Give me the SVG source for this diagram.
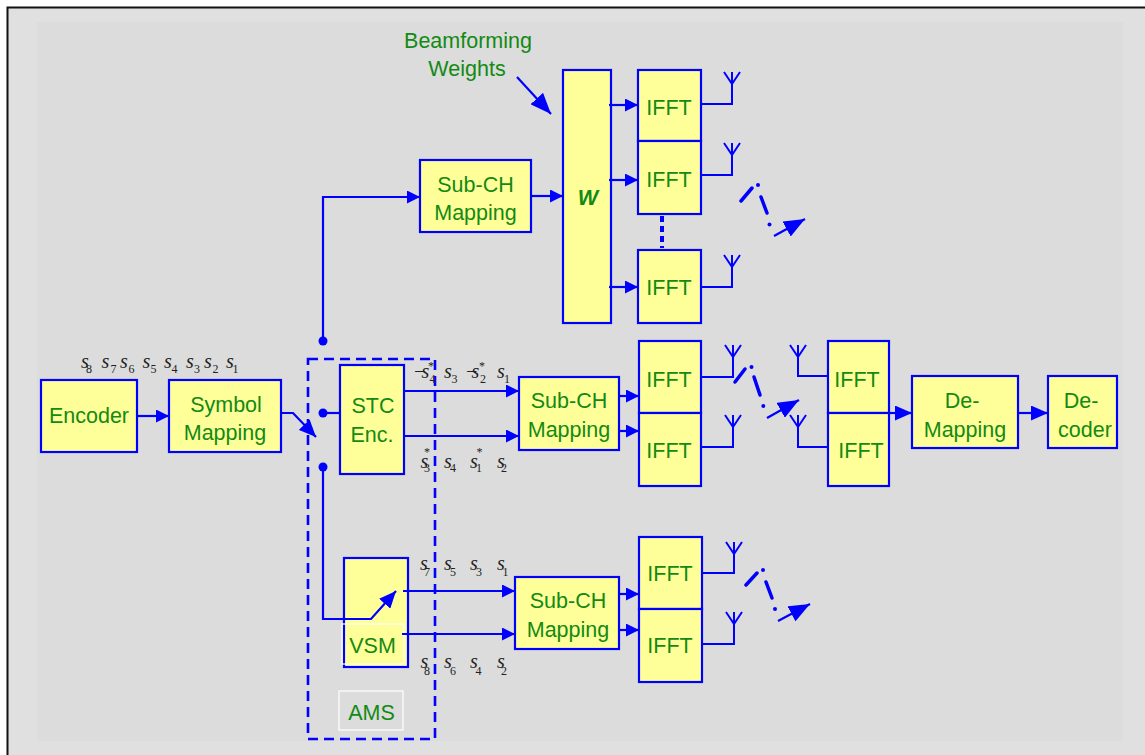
<svg xmlns="http://www.w3.org/2000/svg" width="1145" height="755" viewBox="0 0 1145 755">
<defs>
<style>
.box{fill:#ffff99;stroke:#0000ff;stroke-width:2.2}
.ln{fill:none;stroke:#0000ff;stroke-width:2.2}
.ant{fill:none;stroke:#0000ff;stroke-width:2}
.dash{fill:none;stroke:#0000ff;stroke-width:3.5;stroke-linecap:round}
.lbl{font-family:"Liberation Sans",Arial,sans-serif;font-size:21.5px;fill:#138a13;text-anchor:middle}
.sym{font-family:"Liberation Serif","Times New Roman",serif;font-size:20px;font-style:italic;fill:#222}
.sub{font-size:12px;font-style:normal}
.ast{font-size:12px;font-style:normal}
.dot{fill:#0000ff}
</style>
<marker id="ah" markerUnits="userSpaceOnUse" markerWidth="13" markerHeight="13" refX="13" refY="6.5" orient="auto"><path d="M0,0 L13,6.5 L0,13 z" fill="#0000ff"/></marker>
<marker id="ahm" markerUnits="userSpaceOnUse" markerWidth="17" markerHeight="15" refX="17" refY="7.5" orient="auto"><path d="M0,0 L17,7.5 L0,15 z" fill="#0000ff"/></marker>
<marker id="ahb" markerUnits="userSpaceOnUse" markerWidth="21" markerHeight="17" refX="21" refY="8.5" orient="auto"><path d="M0,0 L21,8.5 L0,17 z" fill="#0000ff"/></marker>
</defs>

<rect x="0" y="0" width="1145" height="755" fill="#ffffff"/>
<rect x="7.5" y="7.5" width="1150" height="760" fill="#e0e0e0" stroke="#111" stroke-width="2"/>
<rect x="37" y="22" width="1086" height="719" fill="#dcdcdc"/>

<!-- AMS dashed region -->
<g id="ams">
<rect x="308" y="359" width="127" height="380" fill="none" stroke="#0000ff" stroke-width="2.6" stroke-dasharray="10 6"/>
<rect x="339" y="691" width="64" height="39" fill="none" stroke="#ffffff" stroke-width="1.2"/>
<text class="lbl" x="371.5" y="720">AMS</text>
</g>

<!-- nodes -->
<g id="encoder"><rect class="box" x="41" y="380" width="96" height="72"/><text class="lbl" x="89" y="423">Encoder</text></g>
<g id="symbol-mapping"><rect class="box" x="169" y="380" width="112" height="72"/><text class="lbl" x="226" y="411.5">Symbol</text><text class="lbl" x="225" y="440">Mapping</text></g>
<g id="beamforming-label"><text class="lbl" x="468" y="48">Beamforming</text><text class="lbl" x="467" y="76">Weights</text></g>
<g id="subch-top"><rect class="box" x="420" y="160" width="111" height="72"/><text class="lbl" x="475.5" y="191.5">Sub-CH</text><text class="lbl" x="475.5" y="220">Mapping</text></g>
<g id="w"><rect class="box" x="563" y="70" width="48" height="253"/><text class="lbl" x="588" y="205" font-weight="bold" font-style="italic">W</text></g>
<g id="ifft-t1"><rect class="box" x="638" y="70" width="63" height="71"/><text class="lbl" x="669" y="115">IFFT</text></g>
<g id="ifft-t2"><rect class="box" x="638" y="141" width="63" height="73"/><text class="lbl" x="669" y="187">IFFT</text></g>
<g id="ifft-t3"><rect class="box" x="638" y="250" width="63" height="73"/><text class="lbl" x="669" y="295">IFFT</text></g>

<g id="stc"><rect class="box" x="340" y="365" width="64" height="109"/><text class="lbl" x="373" y="413">STC</text><text class="lbl" x="372" y="441.5">Enc.</text></g>
<g id="subch-mid"><rect class="box" x="519" y="377" width="100" height="73"/><text class="lbl" x="569" y="408">Sub-CH</text><text class="lbl" x="569" y="436.5">Mapping</text></g>
<g id="ifft-m1"><rect class="box" x="639" y="341" width="62" height="72"/><text class="lbl" x="669" y="386.5">IFFT</text></g>
<g id="ifft-m2"><rect class="box" x="639" y="413" width="62" height="73"/><text class="lbl" x="669" y="458">IFFT</text></g>
<g id="ifft-r1"><rect class="box" x="828" y="341" width="61" height="72"/><text class="lbl" x="857" y="386.5">IFFT</text></g>
<g id="ifft-r2"><rect class="box" x="828" y="413" width="61" height="73"/><text class="lbl" x="861" y="458">IFFT</text></g>
<g id="demapping"><rect class="box" x="912" y="376" width="106" height="72"/><text class="lbl" x="962" y="408">De-</text><text class="lbl" x="965" y="436.5">Mapping</text></g>
<g id="decoder"><rect class="box" x="1048" y="376" width="69" height="72"/><text class="lbl" x="1081" y="408">De-</text><text class="lbl" x="1085" y="436.5">coder</text></g>

<g id="vsm"><rect class="box" x="344" y="558" width="64" height="109"/><rect x="342" y="624" width="62" height="40" fill="none" stroke="#ffffff" stroke-width="1.2"/><text class="lbl" x="372.5" y="653">VSM</text></g>
<g id="subch-bot"><rect class="box" x="515" y="577" width="104" height="72"/><text class="lbl" x="568" y="608">Sub-CH</text><text class="lbl" x="568" y="636.5">Mapping</text></g>
<g id="ifft-b1"><rect class="box" x="639" y="537" width="63" height="72"/><text class="lbl" x="670" y="581">IFFT</text></g>
<g id="ifft-b2"><rect class="box" x="639" y="609" width="63" height="73"/><text class="lbl" x="670" y="652.5">IFFT</text></g>

<!-- connectors -->
<g id="connectors">
<path class="ln" d="M137,416 H169" marker-end="url(#ah)"/>
<path class="ln" d="M281,413 H293 L316,437" marker-end="url(#ahm)"/>
<path class="ln" d="M323,341 V197 H420" marker-end="url(#ah)"/>
<path class="ln" d="M323,413 H340"/>
<path class="ln" d="M323,467 V619 H371 L396,591" marker-end="url(#ahm)"/>
<circle class="dot" cx="323" cy="341" r="4.5"/>
<circle class="dot" cx="323" cy="413" r="4.5"/>
<circle class="dot" cx="323" cy="467" r="4.5"/>
<path class="ln" d="M531,196 H563" marker-end="url(#ah)"/>
<path class="ln" d="M517,77 L551,114" marker-end="url(#ahb)"/>
<path class="ln" d="M609,105 H638" marker-end="url(#ah)"/>
<path class="ln" d="M609,180 H638" marker-end="url(#ah)"/>
<path class="ln" d="M609,287 H638" marker-end="url(#ah)"/>
<path d="M662,216 V248" fill="none" stroke="#0000ff" stroke-width="4" stroke-dasharray="6 4"/>
<path class="ln" d="M404,391 H519" marker-end="url(#ah)"/>
<path class="ln" d="M404,436 H519" marker-end="url(#ah)"/>
<path class="ln" d="M619,396 H639" marker-end="url(#ah)"/>
<path class="ln" d="M619,431 H639" marker-end="url(#ah)"/>
<path class="ln" d="M403,591 H515" marker-end="url(#ah)"/>
<path class="ln" d="M402,634 H515" marker-end="url(#ah)"/>
<path class="ln" d="M619,594 H639" marker-end="url(#ah)"/>
<path class="ln" d="M619,630 H639" marker-end="url(#ah)"/>
<path class="ln" d="M889,413 H912" marker-end="url(#ahm)"/>
<path class="ln" d="M1017,413 H1048" marker-end="url(#ahm)"/>

<!-- antennas -->
<path class="ant" d="M701,104 H732 V72 M732,84 L724,72 M732,84 L740,72"/>
<path class="ant" d="M701,175 H732 V143 M732,155 L724,143 M732,155 L740,143"/>
<path class="ant" d="M701,287 H732 V255 M732,267 L724,255 M732,267 L740,255"/>
<path class="ant" d="M701,377 H733 V345 M733,357 L725,345 M733,357 L741,345"/>
<path class="ant" d="M701,447 H733 V415 M733,427 L725,415 M733,427 L741,415"/>
<path class="ant" d="M702,573 H734 V542 M734,554 L726,542 M734,554 L742,542"/>
<path class="ant" d="M702,644 H734 V612 M734,624 L726,612 M734,624 L742,612"/>
<path class="ant" d="M828,376 H798 V345 M798,357 L790,345 M798,357 L806,345"/>
<path class="ant" d="M828,447 H798 V415 M798,427 L790,415 M798,427 L806,415"/>

<!-- wireless dashed arrows -->
<path class="dash" d="M741,201 L752,188 M761,197 L767,213"/>
<circle class="dot" cx="758" cy="185" r="2"/>
<circle class="dot" cx="769.5" cy="224.5" r="2"/>
<path class="ln" stroke-width="3.5" d="M774,236 L805,219" marker-end="url(#ahb)"/>

<path class="dash" d="M735,382 L745,369 M754,377 L760,395"/>
<circle class="dot" cx="751.5" cy="367" r="2"/>
<circle class="dot" cx="763.3" cy="406" r="2"/>
<path class="ln" stroke-width="3.5" d="M767,418 L799,400" marker-end="url(#ahb)"/>

<path class="dash" d="M746,585 L757,573 M766,582 L772,598"/>
<circle class="dot" cx="763" cy="570" r="2"/>
<circle class="dot" cx="775" cy="609" r="2"/>
<path class="ln" stroke-width="3.5" d="M778,621 L810,604" marker-end="url(#ahb)"/>
</g>

<!-- symbol labels -->
<g id="symbols">
<text class="sym" x="81" y="368">s<tspan class="sub" x="86" y="372.5">8</tspan></text>
<text class="sym" x="101.5" y="368">s<tspan class="sub" x="110.5" y="372.5">7</tspan></text>
<text class="sym" x="120" y="368">s<tspan class="sub" x="128.5" y="372.5">6</tspan></text>
<text class="sym" x="142.5" y="368">s<tspan class="sub" x="150.5" y="372.5">5</tspan></text>
<text class="sym" x="164" y="368">s<tspan class="sub" x="171.5" y="372.5">4</tspan></text>
<text class="sym" x="186" y="368">s<tspan class="sub" x="194" y="372.5">3</tspan></text>
<text class="sym" x="204" y="368">s<tspan class="sub" x="212.5" y="372.5">2</tspan></text>
<text class="sym" x="226" y="368">s<tspan class="sub" x="232.5" y="372.5">1</tspan></text>

<text class="sym" x="413" y="378">−<tspan x="421.5">s</tspan><tspan class="sub" x="429.5" y="383">4</tspan><tspan class="ast" x="428" y="370">*</tspan></text>
<text class="sym" x="444" y="378">s<tspan class="sub" x="451.5" y="383">3</tspan></text>
<text class="sym" x="465" y="378">−<tspan x="471.5">s</tspan><tspan class="sub" x="480" y="383">2</tspan><tspan class="ast" x="479" y="370">*</tspan></text>
<text class="sym" x="497" y="378">s<tspan class="sub" x="504" y="383">1</tspan></text>

<text class="sym" x="420.5" y="468">s<tspan class="sub" x="424" y="472">3</tspan><tspan class="ast" x="424" y="456">*</tspan></text>
<text class="sym" x="444" y="468">s<tspan class="sub" x="450" y="472">4</tspan></text>
<text class="sym" x="470" y="468">s<tspan class="sub" x="476" y="472">1</tspan><tspan class="ast" x="476.5" y="456">*</tspan></text>
<text class="sym" x="497" y="468">s<tspan class="sub" x="501" y="472">2</tspan></text>

<text class="sym" x="420" y="570">s<tspan class="sub" x="424" y="576">7</tspan></text>
<text class="sym" x="444" y="570">s<tspan class="sub" x="450" y="576">5</tspan></text>
<text class="sym" x="470" y="570">s<tspan class="sub" x="476" y="576">3</tspan></text>
<text class="sym" x="497" y="570">s<tspan class="sub" x="502.5" y="576">1</tspan></text>

<text class="sym" x="420.5" y="668">s<tspan class="sub" x="424" y="675">8</tspan></text>
<text class="sym" x="444" y="668">s<tspan class="sub" x="450" y="675">6</tspan></text>
<text class="sym" x="470" y="668">s<tspan class="sub" x="475.5" y="675">4</tspan></text>
<text class="sym" x="497" y="668">s<tspan class="sub" x="501" y="675">2</tspan></text>
</g>
</svg>
